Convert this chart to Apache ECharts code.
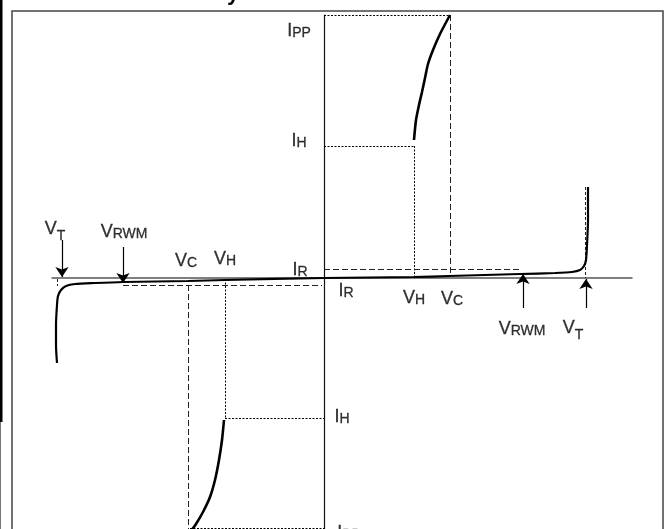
<!DOCTYPE html>
<html lang="en">
<head>
    <meta charset="UTF-8">
    <title>I-V characteristic</title>
    <script src="https://cdn.jsdelivr.net/npm/echarts@6/dist/echarts.min.js"></script>
    <style>
        html, body { margin: 0; padding: 0; background: #fff; }
        #chart { width: 669px; height: 529px; }
    </style>
</head>
<body>
<div id="chart"></div>
<script type="text/javascript">
    // units: 1 unit = 1 px, origin where the axes cross
    // upper (forward) conduction branch, I_H up to I_PP
    var upperCurve = [[90,138],[92,158],[95,173],[98,186],[101,200],[104,214],[109,228],[116,244],[126,263]];
    // lower (reverse) conduction branch
    var lowerCurve = [[-100,-142],[-102,-162],[-105,-182],[-109,-202],[-114,-219],[-121,-234],[-128,-246],[-133,-253]];
    // leakage curve, left breakdown -> origin -> right breakdown
    var mainCurve = [[-267,-85],[-268,-67],[-268,-47],[-267,-27],[-266,-18],[-263,-12],[-258,-8],[-249,-6],
        [-229,-5],[-201,-4],[-136,-3],[-99,-2],[0,0],[90,1],[125,2],[196,4],[231,5],[248,6],[256,8],
        [260,12],[262,18],[263,33],[264,58],[264,91]];

    // guide lines: [x1, y1, x2, y2, style]
    var guides = [
        [0,263,126,263,'dot'],      // I_PP top
        [126,263,126,5,'dash'],     // V_C right
        [0,132,90,132,'dot'],       // I_H top
        [90,132,90,0,'dot'],        // V_H right
        [0,9,196,9,'dash'],         // I_R right
        [261,91,261,0,'short'],     // V_T right
        [-201,-7,-2,-7,'dash'],     // I_R left
        [-136,-7,-136,-251,'dash'], // V_C left
        [-99,-1,-99,-140,'dot'],    // V_H left
        [-99,-140,0,-140,'dot'],    // I_H bottom
        [-134,-250,0,-250,'dot'],   // I_PP bottom
        [-267,-1,-267,-8,'short']   // V_T left
    ];
    // arrows: [x1, y1, x2, y2] (head at second point)
    var arrows = [
        [-262,38,-262,1],
        [-201,31,-201,-5],
        [199,-30,199,4],
        [262,-30,262,-1]
    ];
    // labels: [x, y, letter, subscript, isLowered]
    var labels = [
        [-269,46,'V','T',1],
        [-200,46,'V','RWM',0],
        [-138,17,'V','C',0],
        [-99,19,'V','H',0],
        [-24,8,'I','R',0],
        [22,-13,'I','R',0],
        [90,-20,'V','H',0],
        [128,-21,'V','C',0],
        [198,-51,'V','RWM',0],
        [249,-53,'V','T',1],
        [-25,247,'I','PP',0],
        [-25,137,'I','H',0],
        [18,-139,'I','H',0],
        [25,-255,'I','PP',0]
    ];

    var dashTypes = { dot: [2, 1.5], dash: [6, 3], short: [3, 2] };
    var font = 'Liberation Sans, Arial, sans-serif';

    var chart = echarts.init(document.getElementById('chart'));
    var option = {
        animation: false,
        backgroundColor: '#fff',
        grid: { left: 52, right: 37, top: 15, bottom: 0 },
        xAxis: {
            type: 'value', min: -272, max: 308,
            axisLine: { onZero: true, lineStyle: { color: '#555', width: 1.5 } },
            axisTick: { show: false }, axisLabel: { show: false }, splitLine: { show: false }
        },
        yAxis: {
            type: 'value', min: -251, max: 263,
            axisLine: { onZero: true, lineStyle: { color: '#111', width: 1.2 } },
            axisTick: { show: false }, axisLabel: { show: false }, splitLine: { show: false }
        },
        graphic: [
            { type: 'rect', shape: { x: 0, y: 0, width: 2.5, height: 422 }, style: { fill: '#000' } },
            { type: 'polyline', shape: { points: [[0.5,422],[0.5,529]] }, style: { stroke: '#777', lineWidth: 1 } },
            { type: 'polyline', shape: { points: [[12,529],[12,11],[663,11],[663,529]] },
              style: { stroke: '#444', lineWidth: 1.5, fill: null } },
            { type: 'text', x: 227, y: -17, style: { text: 'y', font: 'bold 22px ' + font, fill: '#000' } }
        ],
        series: [
            {
                type: 'lines', coordinateSystem: 'cartesian2d', silent: true, z: 1,
                data: guides.map(function (g) {
                    return { coords: [[g[0], g[1]], [g[2], g[3]]],
                        lineStyle: { type: dashTypes[g[4]], color: g[4] === 'dot' ? '#000' : '#222', width: 1, opacity: 1 } };
                })
            },
            {
                type: 'lines', coordinateSystem: 'cartesian2d', silent: true, z: 3,
                symbol: ['none', 'arrow'], symbolSize: [7, 10],
                lineStyle: { color: '#000', width: 1.2, opacity: 1 },
                data: arrows.map(function (a) { return { coords: [[a[0], a[1]], [a[2], a[3]]] }; })
            },
            {
                type: 'line', data: mainCurve, smooth: 0.25, showSymbol: false, clip: false, z: 4,
                lineStyle: { color: '#000', width: 2.2 }
            },
            {
                type: 'line', data: upperCurve, smooth: 0.25, showSymbol: false, clip: false, z: 4,
                lineStyle: { color: '#000', width: 2.6 }
            },
            {
                type: 'line', data: lowerCurve, smooth: 0.25, showSymbol: false, clip: false, z: 4,
                lineStyle: { color: '#000', width: 2.6 }
            },
            {
                type: 'scatter', symbolSize: 1, itemStyle: { color: 'rgba(0,0,0,0)' }, clip: false, z: 5,
                data: labels.map(function (l) { return [l[0], l[1], l[2], l[3], l[4]]; }),
                label: {
                    show: true, position: 'inside',
                    formatter: function (p) {
                        var d = p.data;
                        return d[4] ? '{bl|' + d[2] + '}{s|' + d[3] + '}' : '{b|' + d[2] + '}{s|' + d[3] + '}';
                    },
                    rich: {
                        b: { fontSize: 18, fontFamily: font, color: '#000', verticalAlign: 'bottom',
                             textBorderColor: '#000', textBorderWidth: 0.3 },
                        bl: { fontSize: 18, fontFamily: font, color: '#000', verticalAlign: 'bottom', padding: [0, 0, 5, 0],
                              textBorderColor: '#000', textBorderWidth: 0.3 },
                        s: { fontSize: 14, fontFamily: font, color: '#000', verticalAlign: 'bottom',
                             textBorderColor: '#000', textBorderWidth: 0.3 }
                    }
                }
            }
        ]
    };
    chart.setOption(option);
</script>
</body>
</html>
